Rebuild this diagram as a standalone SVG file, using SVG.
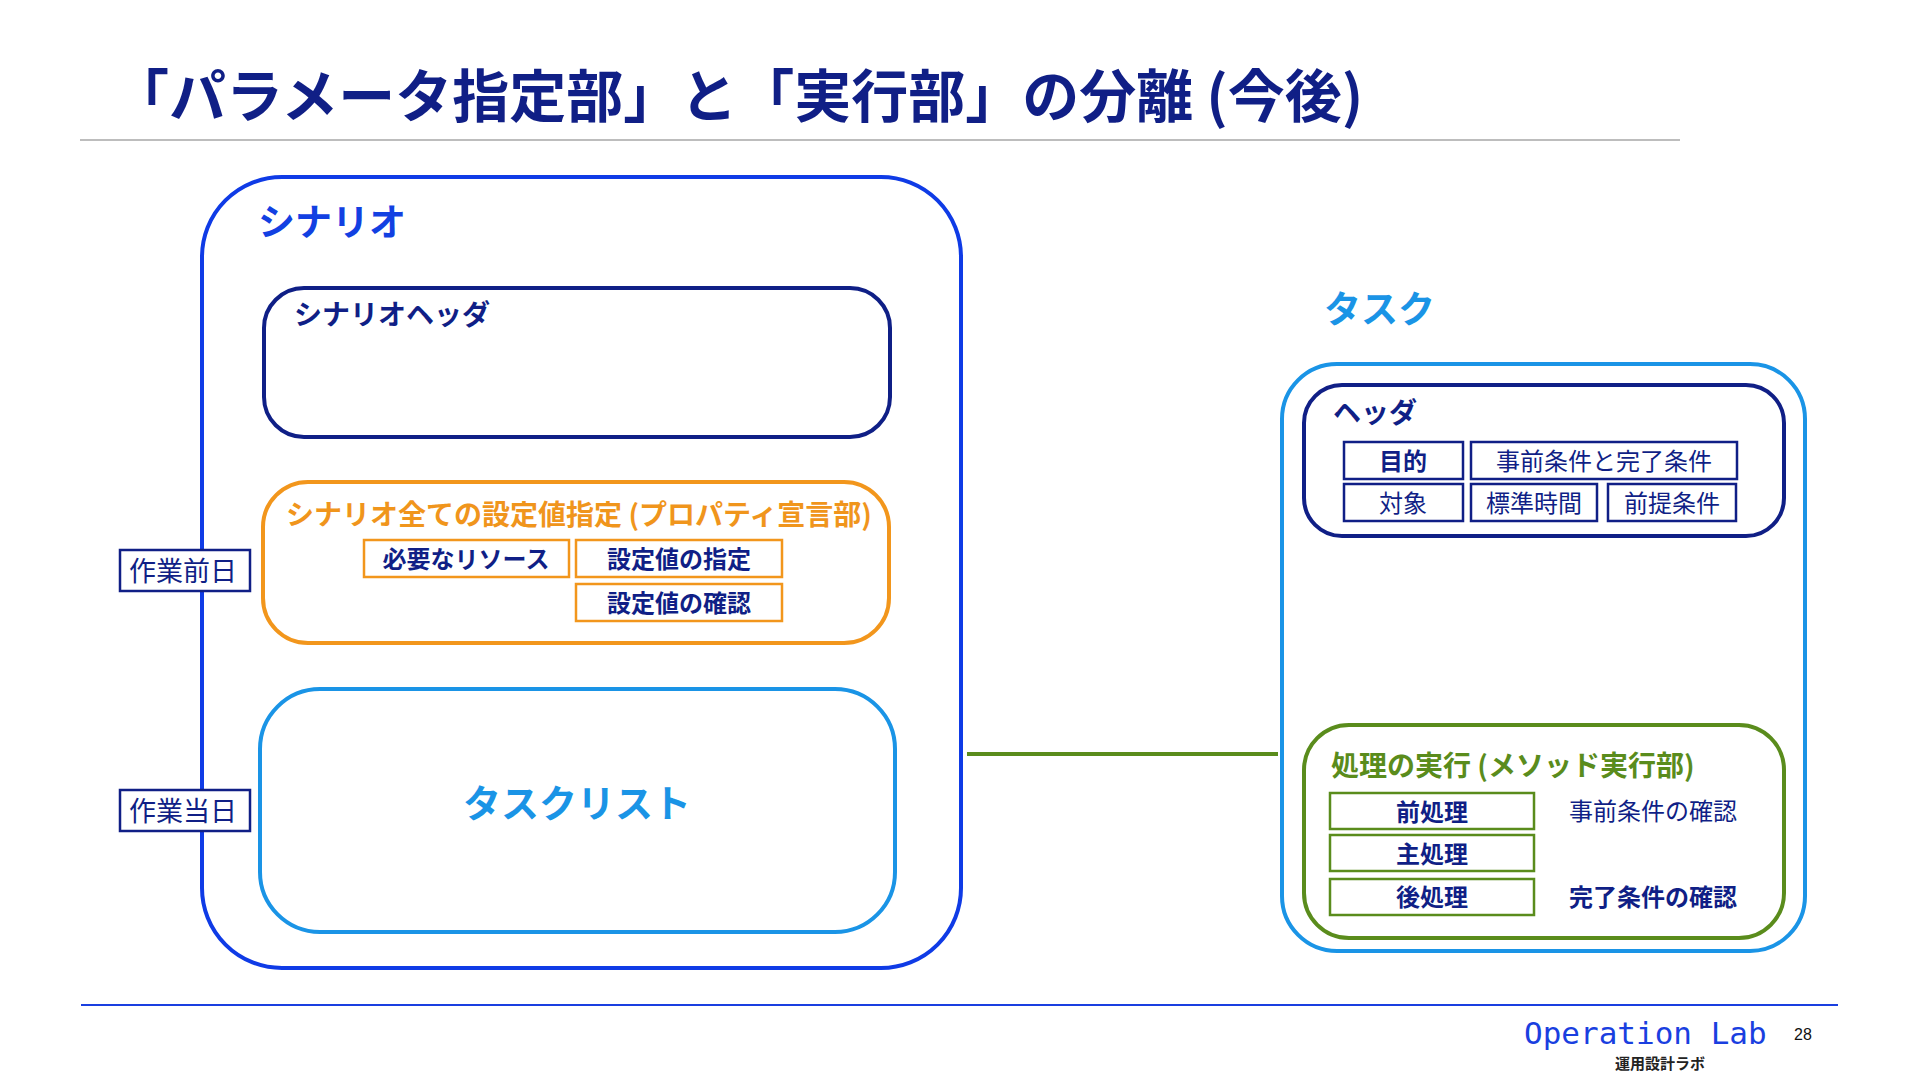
<svg xmlns="http://www.w3.org/2000/svg" width="1920" height="1080" viewBox="0 0 1920 1080">
<style>
text{font-family:"Noto Sans CJK JP","Noto Sans",sans-serif;dominant-baseline:central}
text.mono{font-family:"DejaVu Sans Mono","Liberation Mono",monospace;dominant-baseline:alphabetic}
text.num{font-family:"Liberation Sans",Arial,sans-serif;dominant-baseline:alphabetic}
.b{font-weight:bold}
.navy{fill:#101f86}
.box{fill:#fff;stroke-width:4}
.cell{fill:#fff;stroke-width:2.5}
.mid{text-anchor:middle}
</style>
<rect width="1920" height="1080" fill="#fff"/>
<g id="title">
<text x="112" y="92" class="b navy" font-size="57">「パラメータ指定部」と「実行部」の分離 (今後)</text>
<line x1="80" y1="140" x2="1680" y2="140" stroke="#bdbdbd" stroke-width="2"/>
</g>
<g id="connectors">
<line x1="967" y1="754" x2="1278" y2="754" stroke="#5a8c1c" stroke-width="4"/>
</g>
<g id="scenario">
<rect class="box" x="202" y="177" width="759" height="791" rx="80" stroke="#0f3be6"/>
<text x="258" y="220" class="b" font-size="37" fill="#1240e2">シナリオ</text>
</g>
<g id="scenario-header">
<rect class="box" x="264" y="288" width="626" height="149" rx="40" stroke="#0f1f86"/>
<text x="294" y="313" class="b navy" font-size="28">シナリオヘッダ</text>
</g>
<g id="properties">
<rect class="box" x="263" y="482" width="626" height="161" rx="45" stroke="#f2961c"/>
<text x="579" y="513" class="b mid" font-size="28" fill="#f0951c">シナリオ全ての設定値指定 (プロパティ宣言部)</text>
<rect class="cell" x="364" y="540" width="205" height="37" stroke="#f2961c"/>
<text x="466" y="557" class="b mid navy" font-size="24">必要なリソース</text>
<rect class="cell" x="576" y="540" width="206" height="37" stroke="#f2961c"/>
<text x="679" y="557" class="b mid navy" font-size="24">設定値の指定</text>
<rect class="cell" x="576" y="584" width="206" height="37" stroke="#f2961c"/>
<text x="679" y="601" class="b mid navy" font-size="24">設定値の確認</text>
</g>
<g id="tasklist">
<rect class="box" x="260" y="689" width="635" height="243" rx="60" stroke="#1a94e6"/>
<text x="577" y="800" class="b mid" font-size="38" fill="#1a94e6">タスクリスト</text>
</g>
<g id="day-before">
<rect class="cell" x="120" y="550" width="130" height="41" stroke="#101f86"/>
<text x="183" y="569" class="mid navy" font-size="27">作業前日</text>
</g>
<g id="day-of">
<rect class="cell" x="120" y="790" width="130" height="41" stroke="#101f86"/>
<text x="183" y="809" class="mid navy" font-size="27">作業当日</text>
</g>
<g id="task">
<text x="1324" y="307" class="b" font-size="37" fill="#1a94e6">タスク</text>
<rect class="box" x="1282" y="364" width="523" height="587" rx="55" stroke="#1a94e6"/>
</g>
<g id="task-header">
<rect class="box" x="1304" y="385" width="480" height="151" rx="38" stroke="#101f86"/>
<text x="1333" y="411" class="b navy" font-size="28">ヘッダ</text>
<rect class="cell" x="1344" y="442" width="119" height="37" stroke="#101f86"/>
<text x="1403" y="459" class="b mid navy" font-size="24">目的</text>
<rect class="cell" x="1471" y="442" width="266" height="37" stroke="#101f86"/>
<text x="1604" y="459" class="mid navy" font-size="24">事前条件と完了条件</text>
<rect class="cell" x="1344" y="484" width="119" height="37" stroke="#101f86"/>
<text x="1403" y="501" class="mid navy" font-size="24">対象</text>
<rect class="cell" x="1471" y="484" width="126" height="37" stroke="#101f86"/>
<text x="1534" y="501" class="mid navy" font-size="24">標準時間</text>
<rect class="cell" x="1608" y="484" width="128" height="37" stroke="#101f86"/>
<text x="1672" y="501" class="mid navy" font-size="24">前提条件</text>
</g>
<g id="execution">
<rect class="box" x="1304" y="725" width="480" height="213" rx="45" stroke="#5a8c1c"/>
<text x="1331" y="764" class="b" font-size="28" fill="#5a8c1c">処理の実行 (メソッド実行部)</text>
<rect class="cell" x="1330" y="793" width="204" height="36" stroke="#5a8c1c"/>
<text x="1432" y="810" class="b mid navy" font-size="24">前処理</text>
<rect class="cell" x="1330" y="835" width="204" height="36" stroke="#5a8c1c"/>
<text x="1432" y="852" class="b mid navy" font-size="24">主処理</text>
<rect class="cell" x="1330" y="879" width="204" height="36" stroke="#5a8c1c"/>
<text x="1432" y="895" class="b mid navy" font-size="24">後処理</text>
<text x="1569" y="809" class="navy" font-size="24">事前条件の確認</text>
<text x="1569" y="895" class="b navy" font-size="24">完了条件の確認</text>
</g>
<g id="footer">
<line x1="81" y1="1005" x2="1838" y2="1005" stroke="#1a3fe0" stroke-width="2"/>
<text x="1524" y="1044" class="mono" font-size="31" fill="#1a3fe0">Operation Lab</text>
<text x="1794" y="1040" class="num" font-size="16" fill="#111">28</text>
<text x="1660" y="1062" class="b mid" font-size="15" fill="#222">運用設計ラボ</text>
</g>
</svg>
